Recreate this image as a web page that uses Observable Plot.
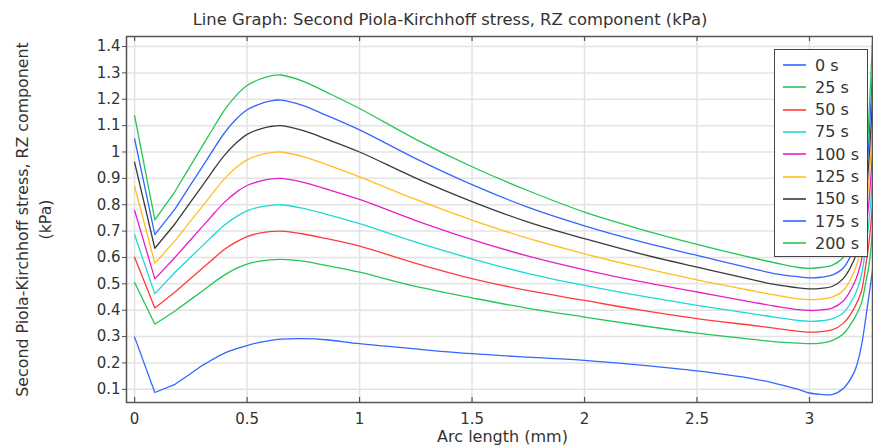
<!DOCTYPE html>
<html><head><meta charset="utf-8">
<script src="https://cdn.jsdelivr.net/npm/d3@7"></script>
<script src="https://cdn.jsdelivr.net/npm/@observablehq/plot@0.6"></script>
<style>
body{margin:0;background:#fff;font-family:"DejaVu Sans",sans-serif;}
#wrap{position:relative;width:873px;height:445px;overflow:hidden;}
#legend{position:absolute;left:774px;top:49px;width:92px;height:206px;background:#fff;border:1.5px solid #444;}
.row{position:absolute;left:0;height:20px;display:flex;align-items:center;font-size:16px;color:#333;}
.row svg{margin-left:8px;margin-right:9px;}
</style></head><body><div id="wrap"><div id="chart"></div><div id="legend"></div></div>
<script>
const arcLength = [0, 0.09, 0.18, 0.25, 0.3, 0.35, 0.4, 0.45, 0.5, 0.55, 0.6, 0.65, 0.75, 0.85, 1.0, 1.25, 1.5, 1.75, 2.0, 2.25, 2.5, 2.75, 2.85, 2.95, 3.0, 3.05, 3.1, 3.15, 3.2, 3.23, 3.25, 3.265, 3.28];
const s0   = [0.298, 0.088, 0.119, 0.160, 0.190, 0.215, 0.237, 0.253, 0.266, 0.277, 0.285, 0.290, 0.292, 0.288, 0.273, 0.253, 0.235, 0.222, 0.210, 0.192, 0.170, 0.140, 0.122, 0.100, 0.086, 0.081, 0.080, 0.103, 0.168, 0.262, 0.370, 0.460, 0.550];
const s25  = [0.505, 0.347, 0.397, 0.441, 0.472, 0.504, 0.534, 0.558, 0.575, 0.585, 0.591, 0.593, 0.586, 0.570, 0.544, 0.490, 0.447, 0.407, 0.374, 0.342, 0.313, 0.289, 0.280, 0.275, 0.273, 0.275, 0.285, 0.310, 0.370, 0.425, 0.505, 0.575, 0.700];
const s50  = [0.601, 0.408, 0.469, 0.521, 0.558, 0.595, 0.631, 0.658, 0.679, 0.691, 0.698, 0.700, 0.689, 0.672, 0.643, 0.578, 0.520, 0.474, 0.437, 0.400, 0.368, 0.342, 0.331, 0.320, 0.317, 0.319, 0.325, 0.350, 0.410, 0.470, 0.570, 0.660, 0.800];
const s75  = [0.686, 0.462, 0.544, 0.602, 0.643, 0.684, 0.723, 0.754, 0.777, 0.790, 0.797, 0.800, 0.786, 0.764, 0.728, 0.658, 0.595, 0.539, 0.494, 0.454, 0.418, 0.386, 0.373, 0.361, 0.358, 0.360, 0.367, 0.390, 0.455, 0.530, 0.640, 0.740, 0.900];
const s100 = [0.778, 0.519, 0.601, 0.668, 0.716, 0.764, 0.810, 0.846, 0.873, 0.888, 0.897, 0.900, 0.885, 0.860, 0.820, 0.740, 0.668, 0.605, 0.553, 0.508, 0.469, 0.430, 0.415, 0.402, 0.399, 0.401, 0.408, 0.435, 0.505, 0.585, 0.700, 0.820, 1.000];
const s125 = [0.869, 0.578, 0.664, 0.740, 0.793, 0.847, 0.899, 0.940, 0.970, 0.987, 0.997, 1.000, 0.982, 0.953, 0.906, 0.820, 0.742, 0.672, 0.614, 0.562, 0.515, 0.473, 0.457, 0.443, 0.440, 0.442, 0.450, 0.475, 0.550, 0.635, 0.760, 0.900, 1.100];
const s150 = [0.961, 0.635, 0.728, 0.812, 0.871, 0.931, 0.988, 1.033, 1.067, 1.085, 1.096, 1.100, 1.081, 1.050, 1.000, 0.901, 0.812, 0.734, 0.671, 0.614, 0.563, 0.515, 0.497, 0.485, 0.481, 0.483, 0.490, 0.520, 0.595, 0.685, 0.820, 0.980, 1.200];
const s175 = [1.050, 0.687, 0.784, 0.877, 0.943, 1.009, 1.073, 1.123, 1.160, 1.180, 1.193, 1.197, 1.176, 1.140, 1.084, 0.975, 0.876, 0.790, 0.720, 0.660, 0.608, 0.557, 0.538, 0.527, 0.523, 0.525, 0.533, 0.560, 0.640, 0.735, 0.870, 1.060, 1.300];
const s200 = [1.138, 0.743, 0.851, 0.950, 1.021, 1.091, 1.160, 1.213, 1.252, 1.274, 1.288, 1.292, 1.268, 1.228, 1.165, 1.048, 0.944, 0.853, 0.772, 0.707, 0.650, 0.598, 0.579, 0.562, 0.559, 0.562, 0.570, 0.600, 0.680, 0.780, 0.920, 1.150, 1.420];
const times = ["0 s", "25 s", "50 s", "75 s", "100 s", "125 s", "150 s", "175 s", "200 s"];
const colors = ["#3366ff", "#22c755", "#ff3b3b", "#1fd8d8", "#e81ec8", "#ffbe1f", "#3a3a3a", "#3366ff", "#22c755"];
const xTicks = [0, 0.5, 1, 1.5, 2, 2.5, 3];
const yTicks = [0.1, 0.2, 0.3, 0.4, 0.5, 0.6, 0.7, 0.8, 0.9, 1.0, 1.1, 1.2, 1.3, 1.4];
const titleText = "Line Graph: Second Piola-Kirchhoff stress, RZ component (kPa)";
const yLabel1 = "Second Piola-Kirchhoff stress, RZ component";
const yLabel2 = "(kPa)";
const xLabel = "Arc length (mm)";

const seriesValues = [s0, s25, s50, s75, s100, s125, s150, s175, s200];
const data = times.flatMap((t, i) => seriesValues[i].map((v, j) => ({time: t, x: arcLength[j], y: v})));
const splitAt = 0.35;

const txt = "#333";
const chart = Plot.plot({
  width: 873, height: 445,
  marginTop: 36, marginBottom: 43, marginLeft: 126, marginRight: 1,
  style: {fontFamily: "'DejaVu Sans', sans-serif", fontSize: "15px", color: txt, background: "#fff"},
  x: {domain: [-0.036, 3.28]},
  y: {domain: [0.05, 1.438]},
  color: {domain: times, range: colors},
  marks: [
    Plot.gridX(xTicks, {stroke: "#e3e3e3", strokeOpacity: 1, strokeWidth: 1.5}),
    Plot.gridY(yTicks, {stroke: "#e3e3e3", strokeOpacity: 1, strokeWidth: 1.5}),
    Plot.line(data.filter(d => d.x <= splitAt), {x: "x", y: "y", z: "time", stroke: "time", strokeWidth: 1.3, curve: "linear", clip: true}),
    Plot.line(data.filter(d => d.x >= splitAt), {x: "x", y: "y", z: "time", stroke: "time", strokeWidth: 1.3, curve: "catmull-rom", clip: true}),
    Plot.axisX(xTicks, {tickSize: 0, tickPadding: 11, fontSize: 15, fill: txt, tickFormat: d => d3.format("~g")(d), label: null}),
    Plot.axisY(yTicks, {tickSize: 4, tickPadding: 2, fontSize: 15, fill: txt, stroke: "#555", tickFormat: d => d3.format(".1~f")(d), label: null}),
    Plot.tickX(xTicks, {x: d => d, insetBottom: 361, stroke: "#555", strokeWidth: 1.2}),
    Plot.tickX(xTicks, {x: d => d, insetTop: 361, stroke: "#555", strokeWidth: 1.2}),
    Plot.frame({stroke: "#555", strokeWidth: 1.5}),
    Plot.text([titleText], {frameAnchor: "top", lineAnchor: "middle", dx: -49.5, dy: -17, fontSize: 16.4, fill: txt}),
    Plot.text([yLabel1], {frameAnchor: "left", textAnchor: "middle", lineAnchor: "middle", dx: -104, rotate: -90, fontSize: 15.8, fill: txt}),
    Plot.text([yLabel2], {frameAnchor: "left", textAnchor: "middle", lineAnchor: "middle", dx: -81, rotate: -90, fontSize: 15.8, fill: txt}),
    Plot.text([xLabel], {frameAnchor: "bottom", lineAnchor: "middle", dx: 3, dy: 34, fontSize: 16, fill: txt})
  ]
});
document.getElementById("chart").appendChild(chart);

const legend = document.getElementById("legend");
times.forEach((t, i) => {
  const row = document.createElement("div");
  row.className = "row";
  row.style.top = (5 + i * 22.3) + "px";
  row.innerHTML = `<svg width="23" height="4"><line x1="0" x2="23" y1="2" y2="2" stroke="${colors[i]}" stroke-width="1.6"/></svg><span>${t}</span>`;
  legend.appendChild(row);
});
</script>
</body></html>
